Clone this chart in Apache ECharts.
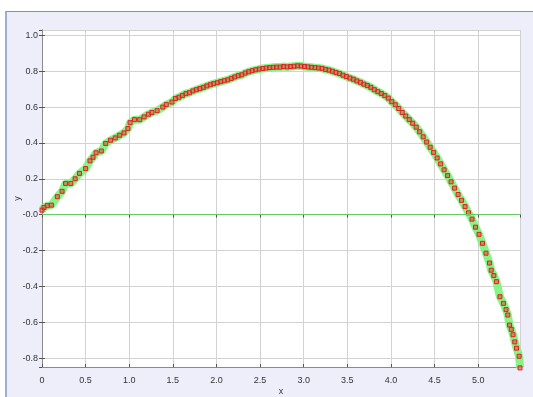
<!DOCTYPE html>
<html>
<head>
<meta charset="utf-8">
<script src="https://cdn.jsdelivr.net/npm/echarts@6/dist/echarts.min.js"></script>
<style>
	html, body { margin: 0; padding: 0; background: #fff; }
	#frame { position: absolute; left: 5px; top: 11px; width: 528px; height: 386px;
		background: #eeeefb; border-top: 1px solid #8c919c; border-left: 2px solid #9eb0d0; box-sizing: border-box; }
	#chart { position: absolute; left: 0; top: 0; width: 533px; height: 397px; }
</style>
</head>
<body>
<div id="frame"></div>
<div id="chart"></div>
<script>
// Data
var xValues = [0, 0.023, 0.06, 0.108, 0.176, 0.23, 0.27, 0.33, 0.38, 0.43, 0.50, 0.55, 0.585, 0.62, 0.68, 0.73,
	0.785, 0.84, 0.89, 0.94, 0.985, 1.01, 1.06, 1.12, 1.17, 1.22, 1.26, 1.32, 1.385, 1.425, 1.49,
	1.53, 1.57, 1.61, 1.65, 1.69, 1.73, 1.77, 1.81, 1.85, 1.89, 1.93, 1.97, 2.01, 2.05, 2.09, 2.13,
	2.17, 2.21, 2.25, 2.29, 2.33, 2.37, 2.41, 2.45, 2.49, 2.53, 2.57, 2.61, 2.65, 2.69, 2.73, 2.77,
	2.81, 2.85, 2.89, 2.93, 2.97, 3.01, 3.05, 3.09, 3.13, 3.17, 3.21, 3.25, 3.29, 3.33, 3.37, 3.41,
	3.45, 3.49, 3.53, 3.57, 3.61, 3.65, 3.69, 3.73, 3.77, 3.81, 3.85, 3.89, 3.93, 3.97, 4.01, 4.05,
	4.09, 4.13, 4.17, 4.21, 4.25, 4.29, 4.33, 4.37, 4.41, 4.45, 4.49, 4.53, 4.57, 4.61, 4.65, 4.69,
	4.73, 4.77, 4.81, 4.85, 4.89, 4.93, 4.97, 5.01, 5.05, 5.09, 5.13, 5.15, 5.18, 5.21, 5.25, 5.29,
	5.32, 5.34, 5.36, 5.38, 5.40, 5.42, 5.44, 5.47, 5.48];
var yValues = [0.025, 0.04, 0.05, 0.053, 0.10, 0.13, 0.174, 0.174, 0.20, 0.23, 0.257, 0.30, 0.32, 0.345, 0.355, 0.397,
	0.415, 0.428, 0.443, 0.456, 0.48, 0.513, 0.53, 0.53, 0.545, 0.56, 0.57, 0.58, 0.60, 0.614, 0.628,
	0.648, 0.655, 0.665, 0.675, 0.68, 0.69, 0.697, 0.703, 0.71, 0.718, 0.725, 0.731, 0.736, 0.742, 0.747, 0.752,
	0.76, 0.768, 0.775, 0.78, 0.79, 0.797, 0.803, 0.808, 0.812, 0.815, 0.818, 0.82, 0.822, 0.823, 0.823, 0.826,
	0.824, 0.826, 0.828, 0.83, 0.829, 0.826, 0.824, 0.822, 0.82, 0.818, 0.816, 0.81, 0.806, 0.80, 0.793, 0.787,
	0.778, 0.77, 0.762, 0.755, 0.746, 0.738, 0.728, 0.72, 0.71, 0.697, 0.686, 0.676, 0.664, 0.65, 0.63, 0.613,
	0.592, 0.57, 0.55, 0.53, 0.51, 0.488, 0.462, 0.434, 0.405, 0.376, 0.347, 0.316, 0.283, 0.25, 0.218, 0.183,
	0.148, 0.112, 0.08, 0.045, 0.01, -0.025, -0.07, -0.11, -0.16, -0.215, -0.27, -0.31, -0.34, -0.374, -0.458, -0.495,
	-0.53, -0.56, -0.616, -0.64, -0.67, -0.71, -0.745, -0.79, -0.855];
var xRange = [0, 5.48];
var yRange = [-0.85, 1.03];
var xStep = 0.5;
var yStep = 0.2;

var points = [];
for (let i = 0; i < xValues.length; i++) {
	points.push([xValues[i], yValues[i]]);
}

var chart = echarts.init(document.getElementById('chart'), '', { renderer: 'canvas' });
var labelFont = { fontFamily: 'Liberation Sans', fontSize: 9, color: '#333' };
var boxAxis = {	// top/right mirror axes: line and inward ticks only
	axisLine: { show: true, lineStyle: { color: '#8a8a8a', width: 1 } },
	axisTick: { show: true, inside: true, length: 3, lineStyle: { color: '#555' } },
	axisLabel: { show: false },
	splitLine: { show: false }
};

chart.setOption({
	backgroundColor: 'transparent',
	animation: false,
	grid: { left: 42, right: 13, top: 30, bottom: 30, show: true, backgroundColor: '#fff', borderWidth: 0,
		containLabel: false, outerBoundsMode: 'none' },
	xAxis: [{
		type: 'value', position: 'bottom', min: xRange[0], max: xRange[1],
		minInterval: xStep, maxInterval: xStep,
		name: 'x', nameLocation: 'middle', nameGap: 20, nameMoveOverlap: false,
		nameTextStyle: labelFont,
		axisLine: { show: true, onZero: false, lineStyle: { color: '#8a8a8a', width: 1 } },
		axisTick: { show: true, inside: true, length: 3, lineStyle: { color: '#555' } },
		axisLabel: Object.assign({ margin: 9, showMaxLabel: false,
			formatter: function(v) { return v === 0 ? '0' : v.toFixed(1); } }, labelFont),
		splitLine: { show: true, lineStyle: { color: '#d2d2d2', width: 1 } }
	}, Object.assign({ type: 'value', position: 'top', min: xRange[0], max: xRange[1],
		minInterval: xStep, maxInterval: xStep }, boxAxis)],
	yAxis: [{
		type: 'value', position: 'left', min: yRange[0], max: yRange[1],
		minInterval: yStep, maxInterval: yStep,
		name: 'y', nameLocation: 'middle', nameGap: 20, nameRotate: 90, nameMoveOverlap: false,
		nameTextStyle: labelFont,
		axisLine: { show: true, onZero: false, lineStyle: { color: '#66cc66', width: 1 } },
		axisTick: { show: true, inside: true, length: 3, lineStyle: { color: '#555' } },
		axisLabel: Object.assign({ margin: 4, showMinLabel: false, showMaxLabel: false,
			formatter: function(v) { return Math.abs(v) < 1e-9 ? '-0.0' : v.toFixed(1); } }, labelFont),
		splitLine: { show: true, lineStyle: { color: '#d2d2d2', width: 1 } }
	}, Object.assign({ type: 'value', position: 'right', min: yRange[0], max: yRange[1],
		minInterval: yStep, maxInterval: yStep }, boxAxis)],
	series: [{
		type: 'line',
		data: points,
		clip: false,
		symbol: 'rect',
		symbolSize: 4,
		showAllSymbol: true,
		lineStyle: { color: 'rgba(120,245,120,0.9)', width: 8 },
		itemStyle: { color: 'rgba(225,70,70,0.55)', borderColor: '#e02020', borderWidth: 1 },
		markLine: {
			silent: true, symbol: 'none', animation: false,
			label: { show: false },
			lineStyle: { color: '#66cc66', width: 1, type: 'solid' },
			data: [{ yAxis: 0 }]
		},
		z: 3
	}]
});
</script>
</body>
</html>
